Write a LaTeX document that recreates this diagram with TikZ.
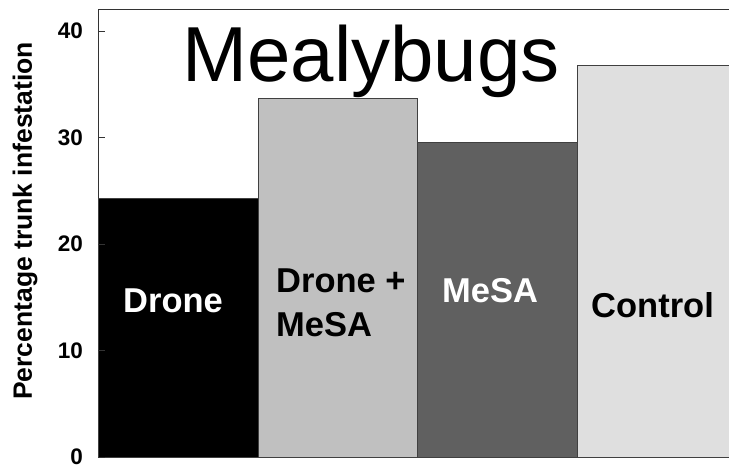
\documentclass[tikz,border=0pt]{standalone}
\usepackage{fontspec}
\setmainfont{Liberation Sans}
\usepackage{tikz}
\usetikzlibrary{positioning}

\definecolor{barone}{gray}{0.0}
\definecolor{bartwo}{gray}{0.753}
\definecolor{barthree}{gray}{0.376}
\definecolor{barfour}{gray}{0.875}

\begin{document}
\begin{tikzpicture}[x=1pt, y=1pt,
      bar/.style={draw=black!75, line width=0.9pt},
      barlabel/.style={font=\fontsize{34.5}{40}\selectfont\bfseries, align=left, inner sep=0pt},
      ticklabel/.style={font=\fontsize{22.5}{22.5}\selectfont\bfseries, anchor=east, inner sep=0pt}]
      \useasboundingbox (0,0) rectangle (729,466);
      % frame
      \draw[black!80, line width=0.9pt] (740,457) -- (98,457) -- (98,9) -- (740,9);
      % bars: left, right, value, fill
      \foreach \xa/\xb/\val/\col in {98/258/24.3/barone, 258/417/33.7/bartwo,
                                     417/577/29.5/barthree, 577/740/36.8/barfour}
        \draw[bar, fill=\col] (\xa,9) rectangle (\xb,{9+\val*10.65});
      % ticks
      \foreach \v in {0,10,...,40} {
        \draw[black!80, line width=0.9pt] (98,{9+\v*10.65}) -- (105,{9+\v*10.65});
        \node[ticklabel] (tick\v) at (83,{9+\v*10.65}) {\v};
      }
      % labels
      \node[font=\fontsize{78}{78}\selectfont, anchor=base] (title) at (371,384) {Mealybugs};
      \node[barlabel, text=white, anchor=base west] (drone) at (123,153) {Drone};
      \node[barlabel, anchor=base west] (dronemesa) at (276,173) {Drone +};
      \node[barlabel, anchor=base west] (dronemesab) at (276,129) {MeSA};
      \node[barlabel, text=white, anchor=base west] (mesa) at (442,163) {MeSA};
      \node[barlabel, anchor=base west] (control) at (591,148) {Control};
      \node[font=\fontsize{26.5}{26.5}\selectfont\bfseries, rotate=90] (ylabel) at (25,245) {Percentage trunk infestation};
    \end{tikzpicture}
\end{document}
